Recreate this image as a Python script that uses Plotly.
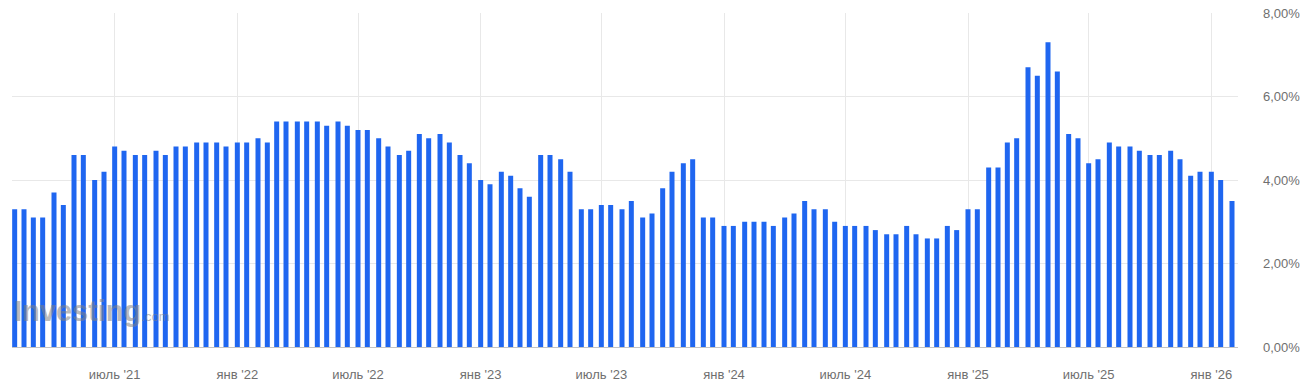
import pandas as pd
import plotly.graph_objects as go

# Semi-monthly observations, Feb 2021 – Feb 2026
values = [
    3.3, 3.3, 3.1, 3.1, 3.7, 3.4, 4.6, 4.6, 4.0, 4.2, 4.8, 4.7, 4.6, 4.6, 4.7, 4.6,
    4.8, 4.8, 4.9, 4.9, 4.9, 4.8, 4.9, 4.9, 5.0, 4.9, 5.4, 5.4, 5.4, 5.4, 5.4,
    5.3, 5.4, 5.3, 5.2, 5.2, 5.0, 4.8, 4.6, 4.7, 5.1, 5.0, 5.1, 4.9, 4.6, 4.4, 4.0,
    3.9, 4.2, 4.1, 3.8, 3.6, 4.6, 4.6, 4.5, 4.2, 3.3, 3.3, 3.4, 3.4, 3.3, 3.5, 3.1,
    3.2, 3.8, 4.2, 4.4, 4.5, 3.1, 3.1, 2.9, 2.9, 3.0, 3.0, 3.0, 2.9, 3.1, 3.2, 3.5,
    3.3, 3.3, 3.0, 2.9, 2.9, 2.9, 2.8, 2.7, 2.7, 2.9, 2.7, 2.6, 2.6, 2.9, 2.8, 3.3,
    3.3, 4.3, 4.3, 4.9, 5.0, 6.7, 6.5, 7.3, 6.6, 5.1, 5.0, 4.4, 4.5, 4.9, 4.8, 4.8,
    4.7, 4.6, 4.6, 4.7, 4.5, 4.1, 4.2, 4.2, 4.0, 3.5,
]
dates = pd.date_range("2021-02-01", periods=len(values), freq="SMS")

tick_dates = ["2021-07-01", "2022-01-01", "2022-07-01", "2023-01-01", "2023-07-01",
              "2024-01-01", "2024-07-01", "2025-01-01", "2025-07-01", "2026-01-01"]
tick_labels = ["июль '21", "янв '22", "июль '22", "янв '23", "июль '23",
               "янв '24", "июль '24", "янв '25", "июль '25", "янв '26"]
y_ticks = [0, 2, 4, 6, 8]
y_labels = ["0,00%", "2,00%", "4,00%", "6,00%", "8,00%"]

DAY_MS = 86400000

fig = go.Figure(go.Bar(
    x=dates, y=values,
    width=[7.5 * DAY_MS] * len(values),
    marker=dict(color="#1f66f0", line=dict(width=0)),
))

fig.update_layout(
    width=1312, height=388,
    margin=dict(l=12, r=74, t=13, b=41, autoexpand=False),
    paper_bgcolor="white", plot_bgcolor="white",
    showlegend=False,
    font=dict(family="Liberation Sans, Arial, sans-serif", size=13, color="#6f6f6f"),
    xaxis=dict(
        type="date",
        range=["2021-01-28", "2026-02-10"],
        tickvals=tick_dates, ticktext=tick_labels,
        showgrid=True, gridcolor="#e8e8e8", gridwidth=1,
        zeroline=False, showline=False, ticks="",
        ticklabelstandoff=18, automargin=False,
    ),
    yaxis=dict(
        side="right", range=[0, 8],
        tickvals=y_ticks, ticktext=y_labels,
        showgrid=True, gridcolor="#e8e8e8", gridwidth=1,
        zeroline=True, zerolinecolor="#c4c4c4", zerolinewidth=1,
        showline=False, ticks="",
        ticklabelstandoff=24, automargin=False,
    ),
    annotations=[dict(
        xref="paper", yref="paper", x=0.0, y=0.055, xanchor="left", yanchor="bottom",
        text="<b>Investing</b><span style='font-size:13px'>.com</span>",
        showarrow=False,
        font=dict(family="Liberation Sans, Arial, sans-serif", size=29, color="rgba(130,130,130,0.55)"),
    )],
)

fig.write_html("out.html")
